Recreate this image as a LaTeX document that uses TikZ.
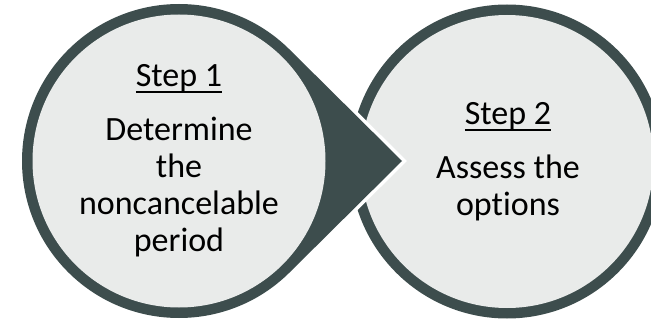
\documentclass[tikz,border=0pt]{standalone}
\usepackage{fontspec}
\setmainfont{Carlito}[Ligatures={NoCommon,NoContextual}]
\definecolor{ringdark}{RGB}{61,77,77}
\definecolor{disclight}{RGB}{233,235,234}
\newcommand\stepul[1]{\setbox0\hbox{#1}\rlap{\rule[-6pt]{\wd0}{1.8pt}}\box0}
\begin{document}
\begin{tikzpicture}[x=1pt,y=1pt,
  txt/.style={font=\fontsize{34}{37}\selectfont, anchor=base, inner sep=0pt, text=black},
  teardrop/.style={fill=ringdark}]
\useasboundingbox (0,0) rectangle (651,322);
\coordinate (c1) at (179,161);
\coordinate (c2) at (507,160.5);
\coordinate (tip) at (402,161);
% right disc
\fill[ringdark] (c2) circle[radius=157];
\fill[disclight] (c2) circle[radius=146.5];
% left disc with arrow point
\draw[white, line width=7pt, line join=miter, miter limit=10]
  (tip) -- ([shift={(45:157)}]c1) arc[start angle=45,end angle=315,radius=157] -- cycle;
\fill[teardrop]
  (tip) -- ([shift={(45:157)}]c1) arc[start angle=45,end angle=315,radius=157] -- cycle;
\fill[disclight] (c1) circle[radius=146.5];
% texts left
\node[txt] (s1) at (179,235) {\stepul{Step 1}};
\node[txt] (l1) at (179,182) {Determine};
\node[txt] (l2) at (179,145) {the};
\node[txt] (l3) at (179,108) {noncancelable};
\node[txt] (l4) at (179,71) {period};
% texts right
\node[txt] (s2) at (508,197) {\stepul{Step 2}};
\node[txt] (r1) at (508,144) {Assess the};
\node[txt] (r2) at (508,107) {opt\kern0pt ions};
\end{tikzpicture}
\end{document}
